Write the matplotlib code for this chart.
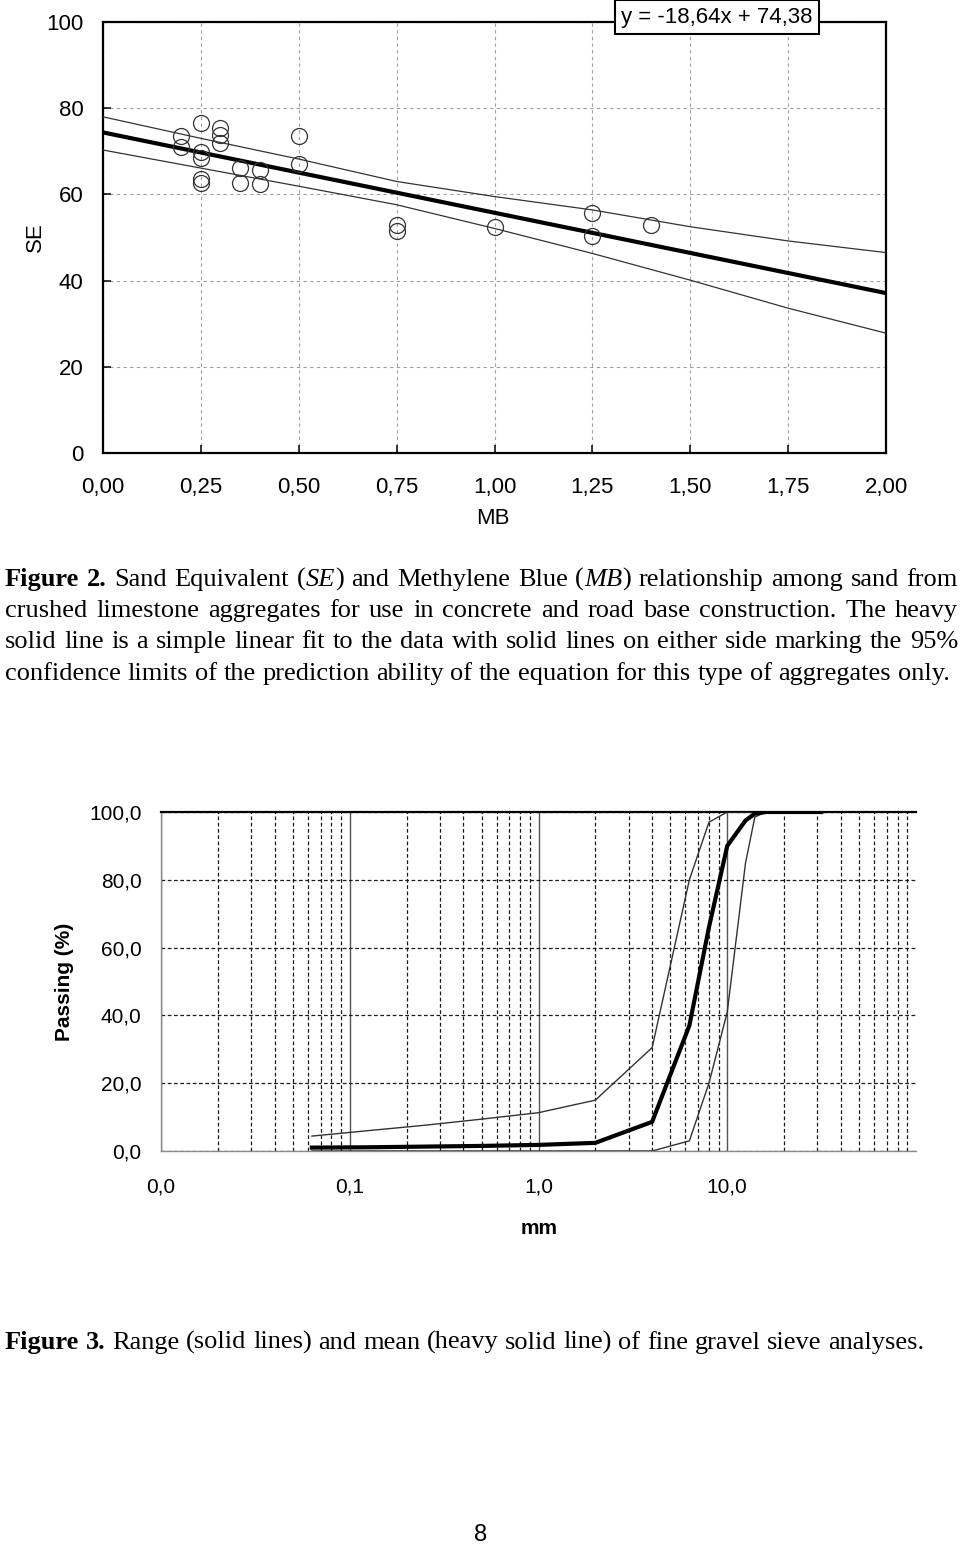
import matplotlib
matplotlib.use("Agg")
import matplotlib.pyplot as plt
import numpy as np
from matplotlib.ticker import FixedLocator, NullLocator, FixedFormatter

W, H = 960, 1545

# ---------------- Figure 2 data ----------------
mb = [0.20, 0.20, 0.25, 0.25, 0.25, 0.25, 0.25, 0.30, 0.30, 0.30, 0.35, 0.35,
      0.40, 0.40, 0.50, 0.50, 0.75, 0.75, 1.00, 1.25, 1.25, 1.40]
se = [73.6, 71.1, 76.6, 69.9, 68.4, 63.5, 62.7, 75.4, 73.8, 72.0, 66.1, 62.6,
      65.7, 62.3, 73.5, 67.0, 52.9, 51.5, 52.4, 55.7, 50.3, 52.9]
fit_slope = -18.64
fit_intercept = 74.38
fit_x = [0.0, 2.0]
band_x = [0.0, 0.25, 0.5, 0.75, 1.0, 1.25, 1.5, 1.75, 2.0]
band_upper = [78.0, 73.0, 68.2, 63.0, 59.5, 56.4, 52.5, 49.2, 46.5]
band_lower = [70.3, 66.1, 61.9, 57.6, 52.1, 46.3, 40.1, 33.6, 27.8]
mb_ticks = [0.0, 0.25, 0.5, 0.75, 1.0, 1.25, 1.5, 1.75, 2.0]
mb_ticklabels = ["0,00", "0,25", "0,50", "0,75", "1,00", "1,25", "1,50", "1,75", "2,00"]
se_ticks = [0, 20, 40, 60, 80, 100]
se_ticklabels = ["0", "20", "40", "60", "80", "100"]
equation = "y = -18,64x + 74,38"

# ---------------- Figure 3 data ----------------
sieve_mm = [0.063, 0.125, 0.25, 0.5, 1.0, 2.0, 4.0, 6.3, 8.0, 10.0, 12.5, 14.0, 16.0, 20.0, 31.5]
pass_mean = [1.0, 1.1, 1.3, 1.5, 1.8, 2.4, 8.6, 37.0, 66.0, 90.0, 97.5, 99.5, 100, 100, 100]
pass_upper = [4.4, 6.0, 7.6, 9.4, 11.3, 15.0, 30.5, 80.0, 97.0, 100, 100, 100, 100, 100, 100]
pass_lower = [0, 0, 0, 0, 0, 0, 0, 3.0, 20.0, 41.0, 85.0, 98.5, 100, 100, 100]
mm_ticks = [0.01, 0.1, 1.0, 10.0]
mm_ticklabels = ["0,0", "0,1", "1,0", "10,0"]
pass_ticks = [0, 20, 40, 60, 80, 100]
pass_ticklabels = ["0,0", "20,0", "40,0", "60,0", "80,0", "100,0"]

fig = plt.figure(figsize=(W / 100, H / 100), dpi=100)
fig.patch.set_facecolor("white")

def fx(px):
    return px / W

def fy(py):
    return 1 - py / H

SANS = ["Liberation Sans", "DejaVu Sans"]
SERIF = ["Liberation Serif", "DejaVu Serif"]

# ================= Top chart =================
ax1 = fig.add_axes([fx(103), fy(453), (886 - 103) / W, (453 - 22) / H])
ax1.set_xlim(0, 2)
ax1.set_ylim(0, 100)
ax1.xaxis.set_major_locator(FixedLocator(mb_ticks))
ax1.xaxis.set_major_formatter(FixedFormatter(mb_ticklabels))
ax1.yaxis.set_major_locator(FixedLocator(se_ticks))
ax1.yaxis.set_major_formatter(FixedFormatter(se_ticklabels))
ax1.grid(True, color="#a0a0a0", linestyle=(0, (3, 3)), linewidth=0.8)
ax1.set_axisbelow(True)
for s in ax1.spines.values():
    s.set_color("black")
    s.set_linewidth(1.6)
ax1.tick_params(axis="both", direction="in", length=6, width=1.1, color="black")
ax1.tick_params(axis="y", pad=14, labelsize=16)
ax1.tick_params(axis="x", pad=17, labelsize=16)
for lab in ax1.get_xticklabels() + ax1.get_yticklabels():
    lab.set_fontfamily(SANS)

fit_y = [fit_slope * x + fit_intercept for x in fit_x]
ax1.plot(band_x, band_upper, color="#333333", lw=0.9, zorder=3)
ax1.plot(band_x, band_lower, color="#333333", lw=0.9, zorder=3)
ax1.plot(fit_x, fit_y, color="black", lw=3.0, zorder=4, solid_capstyle="butt")
ax1.plot(mb, se, linestyle="none", marker="o", markersize=11.5,
         markerfacecolor="none", markeredgecolor="#333333", markeredgewidth=0.9, zorder=5,
         clip_on=False)

fig.text(fx(717), fy(17), equation, ha="center", va="center", fontsize=16,
         family=SANS, zorder=10,
         bbox=dict(boxstyle="square,pad=0.28", fc="white", ec="black", lw=1.5))
fig.text(fx(35), fy(237), "SE", rotation=90, ha="center", va="center",
         fontsize=16, family=SANS)
fig.text(fx(493), fy(518), "MB", ha="center", va="center", fontsize=16, family=SANS)

# ================= Bottom chart =================
ax2 = fig.add_axes([fx(161), fy(1151), (916 - 161) / W, (1151 - 812) / H])
ax2.set_xscale("log")
ax2.set_xlim(0.01, 100)
ax2.set_ylim(0, 100)
ax2.xaxis.set_major_locator(FixedLocator(mm_ticks))
ax2.xaxis.set_major_formatter(FixedFormatter(mm_ticklabels))
minor_pos = [m * d for d in (0.01, 0.1, 1.0, 10.0) for m in range(2, 10)]
ax2.xaxis.set_minor_locator(FixedLocator(minor_pos))
ax2.xaxis.set_minor_formatter(FixedFormatter([""] * len(minor_pos)))
ax2.yaxis.set_major_locator(FixedLocator(pass_ticks))
ax2.yaxis.set_major_formatter(FixedFormatter(pass_ticklabels))
ax2.yaxis.set_minor_locator(NullLocator())
ax2.xaxis.grid(True, which="major", color="#555555", linestyle="-", linewidth=1.0)
ax2.xaxis.grid(True, which="minor", color="#1a1a1a", linestyle=(0, (3, 2)), linewidth=0.9)
ax2.yaxis.grid(True, which="major", color="#1a1a1a", linestyle=(0, (3, 2)), linewidth=0.9)
ax2.set_axisbelow(True)
ax2.tick_params(axis="both", which="both", length=0)
ax2.tick_params(axis="y", pad=14, labelsize=15)
ax2.tick_params(axis="x", pad=19, labelsize=15)
for lab in ax2.get_xticklabels() + ax2.get_yticklabels():
    lab.set_fontfamily(SANS)
for k in ("left", "bottom"):
    ax2.spines[k].set_color("#8a8a8a")
    ax2.spines[k].set_linewidth(1.0)
ax2.spines["top"].set_color("black")
ax2.spines["top"].set_linewidth(1.6)
ax2.spines["right"].set_visible(False)

ax2.plot(sieve_mm, pass_upper, color="#333333", lw=1.0, zorder=3)
ax2.plot(sieve_mm, pass_lower, color="#333333", lw=1.0, zorder=3)
ax2.plot(sieve_mm, pass_mean, color="black", lw=3.0, zorder=4)

fig.text(fx(65), fy(982), "Passing (%)", rotation=90, ha="center", va="center",
         fontsize=15, fontweight="bold", family=SANS)
fig.text(fx(539), fy(1228), "mm", ha="center", va="center", fontsize=15,
         fontweight="bold", family=SANS)

# ================= Captions =================
renderer = fig.canvas.get_renderer()
CAP_SIZE = 19.0

def draw_line(words, x0, x1, baseline_py, size, justify):
    objs = []
    widths = []
    for w in words:
        segs = []
        tot = 0.0
        for txt, style in w:
            kw = dict(fontsize=size, family=SERIF, va="baseline", ha="left")
            if style == "b":
                kw["fontweight"] = "bold"
            elif style == "i":
                kw["fontstyle"] = "italic"
            t = fig.text(0, fy(baseline_py), txt, **kw)
            wd = t.get_window_extent(renderer).width
            segs.append((t, wd))
            tot += wd
        objs.append(segs)
        widths.append(tot)
    probe1 = fig.text(0, 0, "x x", fontsize=size, family=SERIF)
    probe2 = fig.text(0, 0, "xx", fontsize=size, family=SERIF)
    space = probe1.get_window_extent(renderer).width - probe2.get_window_extent(renderer).width
    probe1.remove()
    probe2.remove()
    if justify and len(words) > 1:
        gap = (x1 - x0 - sum(widths)) / (len(words) - 1)
    else:
        gap = space
    x = x0
    for segs, wd in zip(objs, widths):
        xx = x
        for t, sw in segs:
            t.set_x(fx(xx))
            xx += sw
        x += wd + gap

def plain(s):
    return [[(w, "n")] for w in s.split()]

cap1 = ([[("Figure", "b")], [("2.", "b")]] + plain("Sand Equivalent")
        + [[("(", "n"), ("SE", "i"), (")", "n")]] + plain("and Methylene Blue")
        + [[("(", "n"), ("MB", "i"), (")", "n")]] + plain("relationship among sand from"))
cap2 = plain("crushed limestone aggregates for use in concrete and road base construction. The heavy")
cap3 = plain("solid line is a simple linear fit to the data with solid lines on either side marking the 95%")
cap4 = plain("confidence limits of the prediction ability of the equation for this type of aggregates only.")

draw_line(cap1, 5, 958, 586, CAP_SIZE, True)
draw_line(cap2, 5, 958, 617, CAP_SIZE, True)
draw_line(cap3, 5, 958, 648, CAP_SIZE, True)
draw_line(cap4, 5, 958, 680, CAP_SIZE, False)

cap5 = ([[("Figure", "b")], [("3.", "b")]]
        + plain("Range (solid lines) and mean (heavy solid line) of fine gravel sieve analyses."))
draw_line(cap5, 5, 925, 1349, CAP_SIZE, False)

fig.text(fx(481), fy(1535), "8", ha="center", va="center", fontsize=17, family=SANS)

fig.savefig("out.png", dpi=100, facecolor="white")
